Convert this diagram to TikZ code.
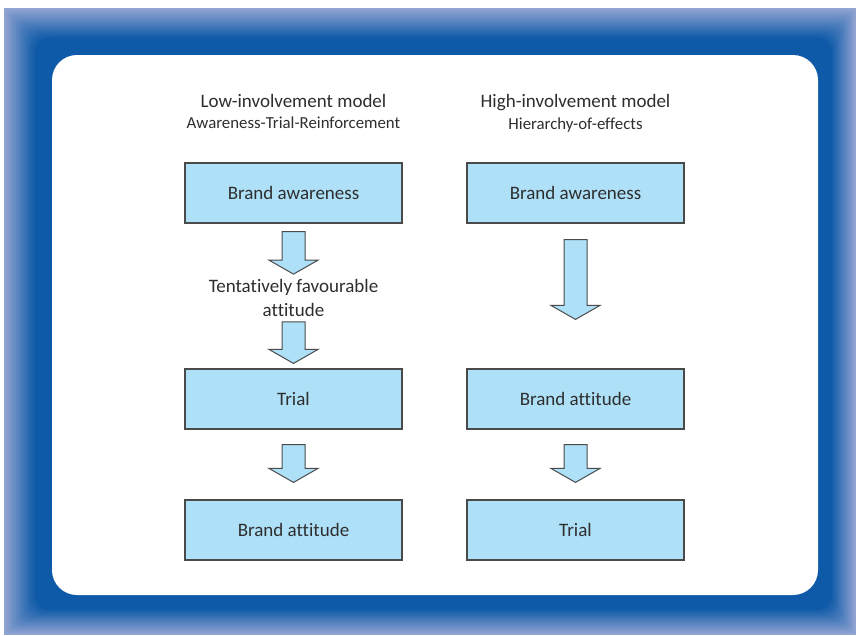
\documentclass[tikz,border=0pt]{standalone}
\usepackage{fontspec}
\setmainfont{Carlito}[Ligatures=NoCommon]
\usetikzlibrary{positioning, calc}

\definecolor{framelight}{HTML}{93A5D3}
\definecolor{framedark}{HTML}{0E5AA8}
\definecolor{boxfill}{HTML}{AEE0F8}
\definecolor{linec}{HTML}{4A4A4A}
\definecolor{textc}{HTML}{2E2E2E}

\begin{document}
\begin{tikzpicture}[
        x=1pt, y=-1pt,
        box/.style={draw=linec, fill=boxfill, rectangle, line width=1.2pt, minimum width=217pt, minimum height=60pt, align=center, text=textc, font=\fontsize{19}{23}\selectfont},
        heading/.style={anchor=base, text=textc, inner sep=0pt, font=\fontsize{19}{23}\selectfont},
        subheading/.style={anchor=base, text=textc, inner sep=0pt, font=\fontsize{16.8}{20}\selectfont},
        midtext/.style={align=center, text=textc, inner sep=0pt, font=\fontsize{19}{24}\selectfont},
        blockarrow/.style={draw=linec, fill=boxfill, line width=1pt, line join=miter, to path={
            let \p1=(\tikztostart), \p2=(\tikztotarget) in
            (\x1-11.5pt,\y1) -- (\x1+11.5pt,\y1) -- (\x1+11.5pt,\y2+14pt) -- (\x1+24.5pt,\y2+14pt)
            -- (\x1,\y2) -- (\x1-24.5pt,\y2+14pt) -- (\x1-11.5pt,\y2+14pt) -- cycle}}
    ]
    \useasboundingbox (0,0) rectangle (856,635);

    % Frame
    \foreach \i in {0,...,44}{
        \pgfmathtruncatemacro\mix{min(100,\i*100/28)}
        \fill[framedark!\mix!framelight, rounded corners=\i*25/44 pt]
            (4+\i*48/44, 8+\i*47/44) rectangle (856-\i*38/44, 635-\i*40/44);
    }
    \fill[white, rounded corners=25pt] (52,55) rectangle (818,595);

    % Headings
    \node[heading] (low) at (293.5,107) {Low-involvement model};
    \node[subheading] (lowsub) at (293.5,128) {Awareness-Trial-Reinforcement};
    \node[heading] (high) at (575.5,107) {High-involvement model};
    \node[subheading] (highsub) at (575.5,129) {Hierarchy-of-effects};

    % Nodes
    \node[box] (aw1) at (293.5,193) {Brand awareness};
    \node[midtext] (fav) at (293.5,298) {Tentatively favourable\\attitude};
    \node[box] (tr1) at (293.5,399) {Trial};
    \node[box] (att1) at (293.5,530) {Brand attitude};

    \node[box] (aw2) at (575.5,193) {Brand awareness};
    \node[box] (att2) at (575.5,399) {Brand attitude};
    \node[box] (tr2) at (575.5,530) {Trial};

    % Arrows
    \draw[blockarrow] ([yshift=-8pt]aw1.south) to ([yshift=5pt]fav.north);
    \draw[blockarrow] ([yshift=-5pt]fav.south) to ([yshift=5pt]tr1.north);
    \draw[blockarrow] ([yshift=-15pt]tr1.south) to ([yshift=17pt]att1.north);

    \draw[blockarrow] ([yshift=-16pt]aw2.south) to ([yshift=49pt]att2.north);
    \draw[blockarrow] ([yshift=-15pt]att2.south) to ([yshift=17pt]tr2.north);
\end{tikzpicture}
\end{document}
